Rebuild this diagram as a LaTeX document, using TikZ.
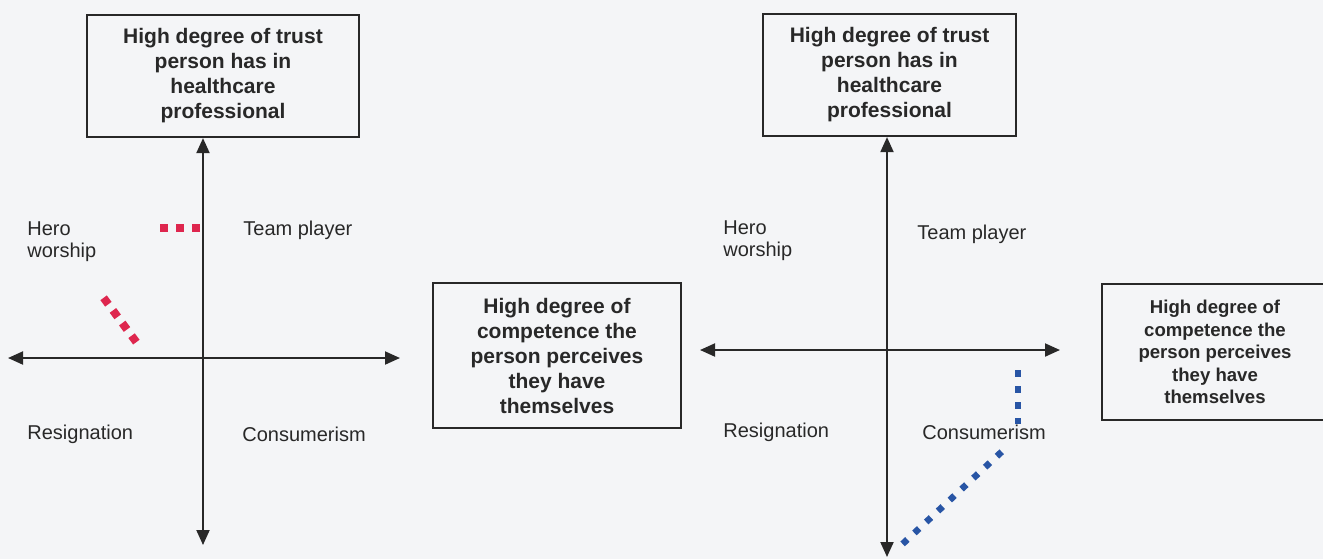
\documentclass[tikz,border=0pt]{standalone}
\usepackage{fontspec}
\setmainfont{Liberation Sans}
\usetikzlibrary{arrows.meta}
\definecolor{inkgrey}{RGB}{40,40,40}
\definecolor{paper}{RGB}{244,245,247}
\definecolor{marksred}{RGB}{222,38,78}
\definecolor{marksblue}{RGB}{40,85,165}

\begin{document}
\begin{tikzpicture}[x=0.5pt, y=-0.5pt,
	box/.style={draw=inkgrey, line width=1.1pt, align=center, inner sep=0pt, text=inkgrey, font=\bfseries\fontsize{10.5}{12.5}\selectfont},
	quad/.style={anchor=west, inner sep=0pt, align=left, text=inkgrey, font=\fontsize{10}{11}\selectfont},
	axis/.style={draw=inkgrey, line width=1pt, {Triangle[length=7.5pt,width=6.5pt]}-{Triangle[length=7.5pt,width=6.5pt]}},
	reddots/.style={draw=marksred, line width=4pt, dash pattern=on 4pt off 4pt},
	bluedots/.style={draw=marksblue, line width=3.25pt, dash pattern=on 3.25pt off 4.8pt}]
			%%%%% START %%%%%
			
			\clip (0, 0) rectangle (1323, 559);
			\fill[paper] (0, 0) rectangle (1323, 559);
			
			% left grid
			\node[box, minimum width=136pt, minimum height=61pt] (ltrust) at (223, 76) {High degree of trust\\person has in\\healthcare\\professional};
			\node[box, minimum width=124pt, minimum height=72.5pt] (lcomp) at (557, 355.5) {High degree of\\competence the\\person perceives\\they have\\themselves};
			
			\coordinate (lbot) at (203, 545);
			\coordinate (lwest) at (8, 358);
			\coordinate (least) at (400, 358);
			\draw[axis] (lbot) -- (lbot |- ltrust.south);
			\draw[axis] (lwest) -- (least);
			
			\node[quad] (lhero) at (27, 242) {Hero\\worship};
			\node[quad] (lteam) at (243, 230) {Team player};
			\node[quad] (lresign) at (27, 434) {Resignation};
			\node[quad] (lconsumer) at (242, 434) {Consumerism};
			
			\draw[reddots] (160, 228) -- (201, 228);
			\draw[reddots, dash pattern=on 4pt off 3.85pt] (103.6, 297.8) -- (136.4, 342.2);
			
			% right grid
			\node[box, minimum width=126.5pt, minimum height=61pt] (rtrust) at (889.5, 75) {High degree of trust\\person has in\\healthcare\\professional};
			\node[box, minimum width=113pt, minimum height=68pt, font=\bfseries\fontsize{9.3}{11.2}\selectfont] (rcomp) at (1215, 352) {High degree of\\competence the\\person perceives\\they have\\themselves};
			
			\coordinate (rbot) at (887, 557);
			\coordinate (rwest) at (700, 350);
			\coordinate (reast) at (1060, 350);
			\draw[axis] (rbot) -- (rbot |- rtrust.south);
			\draw[axis] (rwest) -- (reast);
			
			\node[quad] (rhero) at (723, 241) {Hero\\worship};
			\node[quad] (rteam) at (917, 234) {Team player};
			\node[quad] (rresign) at (723, 432) {Resignation};
			\node[quad] (rconsumer) at (922, 432) {Consumerism};
			
			\draw[bluedots] (1018, 370) -- (1018, 423.5);
			\draw[bluedots] (902.6, 543.9) -- (1002.4, 451.1);
			
			%%%%% END %%%%%
		\end{tikzpicture}
\end{document}
